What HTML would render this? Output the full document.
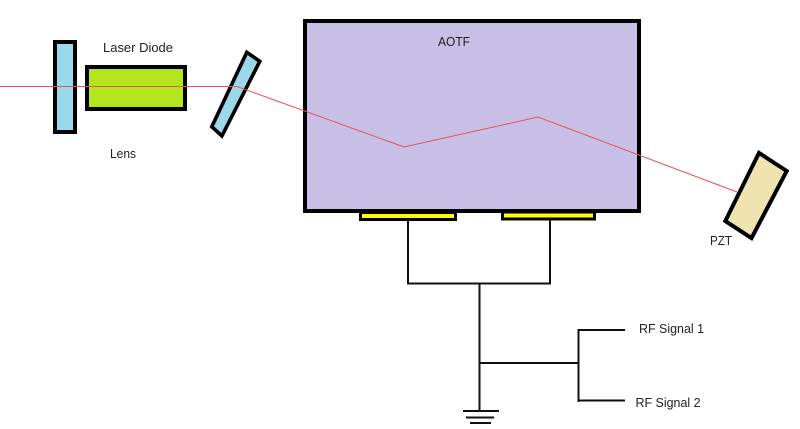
<!DOCTYPE html>
<html>
<head>
<meta charset="utf-8">
<style>
html,body{margin:0;padding:0;background:#fff}
svg{display:block}
text{font-family:"Liberation Sans",sans-serif;font-size:12.5px;fill:#222}
</style>
</head>
<body>
<svg width="800" height="429" viewBox="0 0 800 429" xmlns="http://www.w3.org/2000/svg">
<rect x="0" y="0" width="800" height="429" fill="#fff"/>
<rect x="55" y="42" width="20" height="90" fill="#99d9ea" stroke="#000" stroke-width="4"/>
<rect x="87" y="67" width="98" height="42" fill="#b5e61d" stroke="#000" stroke-width="4"/>
<polygon points="246.800,52.300 259.800,61.300 221.900,136 211.800,126.700" fill="#99d9ea" stroke="#000" stroke-width="3.600"/>
<rect x="305" y="21" width="334" height="190" fill="#c8bfe7" stroke="#000" stroke-width="4"/>
<rect x="360.500" y="212.500" width="95" height="7" fill="#ff0" stroke="#000" stroke-width="3"/>
<rect x="502.500" y="212" width="92" height="7" fill="#ff0" stroke="#000" stroke-width="3"/>
<polygon points="759,152.900 786.700,171 751.500,238.100 725.300,221" fill="#efe4b0" stroke="#000" stroke-width="4"/>
<polyline points="0,86.500 237,86.500 404,147 538,117 737,192" fill="none" stroke="#e8505f" stroke-width="1"/>
<g fill="none" stroke="#111" stroke-width="2">
<path d="M408 221V284M550 220V283.500M407 283.500H551M479.500 283V410"/>
<path d="M479 363H578M578.500 329V402M578 330H625M578 400.500H625"/>
<path d="M463 411H499M466 417.500H494M470 423H491"/>
</g>
<text x="103" y="52" textLength="70" lengthAdjust="spacingAndGlyphs">Laser Diode</text>
<text x="110" y="158" textLength="26" lengthAdjust="spacingAndGlyphs">Lens</text>
<text x="438" y="46" textLength="32" lengthAdjust="spacingAndGlyphs">AOTF</text>
<text x="710" y="245" textLength="22" lengthAdjust="spacingAndGlyphs">PZT</text>
<text x="639" y="333" textLength="65" lengthAdjust="spacingAndGlyphs">RF Signal 1</text>
<text x="635.500" y="407" textLength="65" lengthAdjust="spacingAndGlyphs">RF Signal 2</text>
</svg>
</body>
</html>
